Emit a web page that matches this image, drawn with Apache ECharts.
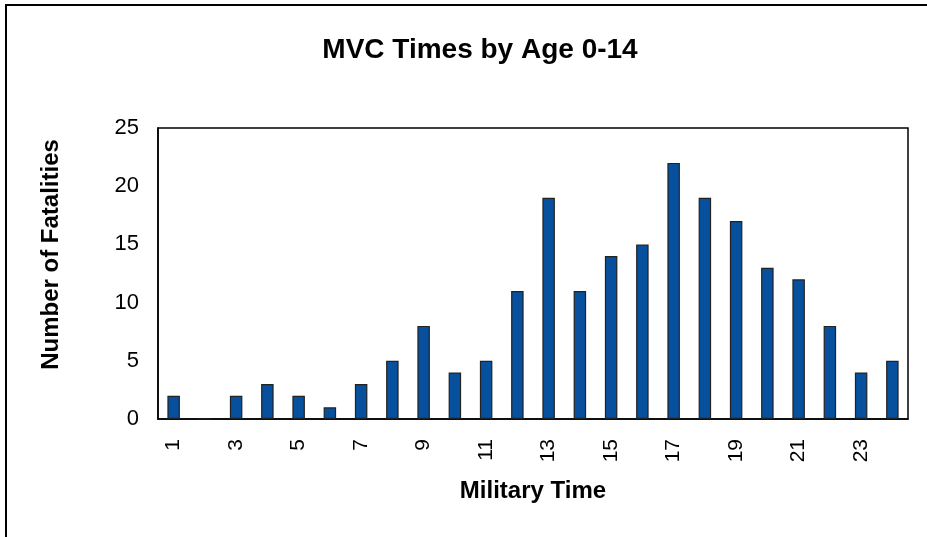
<!DOCTYPE html>
<html><head><meta charset="utf-8">
<script src="https://cdn.jsdelivr.net/npm/echarts@6/dist/echarts.min.js"></script>
<style>html,body{margin:0;padding:0;background:#fff}#c{width:927px;height:537px}</style>
</head><body><div id="c"></div>
<script>
const categories = ['1','2','3','4','5','6','7','8','9','10','11','12','13','14','15','16','17','18','19','20','21','22','23','24'];
const fatalities = [2,0,2,3,2,1,3,5,8,4,5,11,19,11,14,15,22,19,17,13,12,8,4,5];
const yTicks = [0,5,10,15,20,25];

const FONT = 'Liberation Sans, Arial, sans-serif';
const chart = echarts.init(document.getElementById('c'), null, {renderer:'canvas'});
chart.setOption({
  animation:false,
  backgroundColor:'#fff',
  title:{text:'MVC Times by Age 0-14', left:475, textAlign:'center', top:31,
    textStyle:{fontFamily:FONT, fontWeight:'bold', fontSize:28, color:'#000'}},
  graphic:[{type:'rect', shape:{x:6,y:5,width:1000,height:1000}, style:{fill:'none', stroke:'#000', lineWidth:2}, silent:true}],
  grid:{left:158, top:128, right:19, bottom:118, show:true, borderColor:'#000', borderWidth:1.5, backgroundColor:'transparent'},
  xAxis:{type:'category', data:categories,
    axisLine:{show:true, lineStyle:{color:'#000', width:1.5}},
    axisTick:{show:false},
    axisLabel:{interval:1, rotate:90, fontFamily:FONT, fontSize:21, color:'#000', margin:20},
    name:'Military Time', nameLocation:'middle', nameGap:60,
    nameTextStyle:{fontFamily:FONT, fontWeight:'bold', fontSize:24, color:'#000'}},
  yAxis:{type:'value', min:yTicks[0], max:yTicks[yTicks.length-1], interval:5,
    axisLine:{show:true, lineStyle:{color:'#000', width:1.5}},
    axisTick:{show:false}, splitLine:{show:false},
    axisLabel:{fontFamily:FONT, fontSize:22, color:'#000', margin:19},
    name:'Number of Fatalities', nameLocation:'middle', nameGap:95,
    nameTextStyle:{fontFamily:FONT, fontWeight:'bold', fontSize:24, color:'#000', padding:[0,0,0,38]}},
  series:[{type:'bar', data:fatalities, barWidth:'40%',
    itemStyle:{color:'#06509e', borderColor:'#222', borderWidth:1.2}}]
});
</script></body></html>
